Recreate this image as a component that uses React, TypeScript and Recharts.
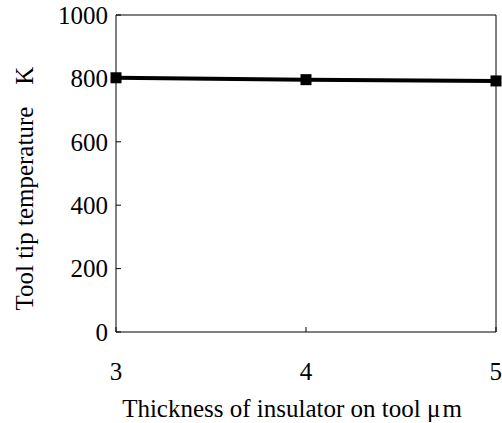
import { LineChart, Line, XAxis, YAxis, ReferenceLine } from "recharts";

const thickness = [3, 4, 5];
const temperature = [802, 796, 792];
const xTicks = [3, 4, 5];
const yTicks = [0, 200, 400, 600, 800, 1000];

const data = thickness.map((t, i) => ({ t, temp: temperature[i] }));

const FONT = "'Liberation Serif', 'Times New Roman', serif";

function SquareDot(props: any) {
  const { cx, cy } = props;
  if (cx == null || cy == null) return null;
  return <rect x={cx - 5.5} y={cy - 5.5} width={11} height={11} fill="#000" />;
}

function YTitle(props: any) {
  const { viewBox } = props;
  const cx = 24;
  const cy = viewBox.y + viewBox.height / 2 + 15;
  return (
    <text
      x={cx}
      y={cy}
      transform={`rotate(-90, ${cx}, ${cy})`}
      textAnchor="middle"
      dominantBaseline="central"
      fontFamily={FONT}
      fontSize={25}
      fill="#000"
    >
      Tool tip temperature
      <tspan dx={22}>K</tspan>
    </text>
  );
}

function XTitle(props: any) {
  const { viewBox } = props;
  return (
    <text
      x={viewBox.x + viewBox.width / 2 - 14}
      y={408}
      textAnchor="middle"
      dominantBaseline="central"
      fontFamily={FONT}
      fontSize={25}
      fill="#000"
    >
      Thickness of insulator on tool μ
      <tspan dx={2}>m</tspan>
    </text>
  );
}

export default function App() {
  return (
    <div style={{ position: "absolute", left: 0, top: 0, background: "#fff" }}>
      <LineChart
        width={502}
        height={423}
        data={data}
        margin={{ top: 15, right: 6, left: 0, bottom: 31 }}
      >
        <XAxis
          dataKey="t"
          type="number"
          domain={[3, 5]}
          ticks={xTicks}
          height={60}
          tickSize={-5}
          tickMargin={35}
          axisLine={{ stroke: "#000", strokeWidth: 1 }}
          tickLine={{ stroke: "#000" }}
          tick={{ fill: "#000", fontSize: 25, fontFamily: FONT }}
          label={<XTitle />}
        />
        <YAxis
          type="number"
          domain={[0, 1000]}
          ticks={yTicks}
          width={116}
          tickSize={-5}
          tickMargin={13}
          axisLine={{ stroke: "#000", strokeWidth: 1 }}
          tickLine={{ stroke: "#000" }}
          tick={{ fill: "#000", fontSize: 25, fontFamily: FONT }}
          label={<YTitle />}
        />
        <ReferenceLine y={1000} stroke="#000" strokeWidth={1} />
        <ReferenceLine x={5} stroke="#000" strokeWidth={1} />
        <Line
          dataKey="temp"
          type="linear"
          stroke="#000"
          strokeWidth={4}
          dot={<SquareDot />}
          isAnimationActive={false}
        />
      </LineChart>
    </div>
  );
}
